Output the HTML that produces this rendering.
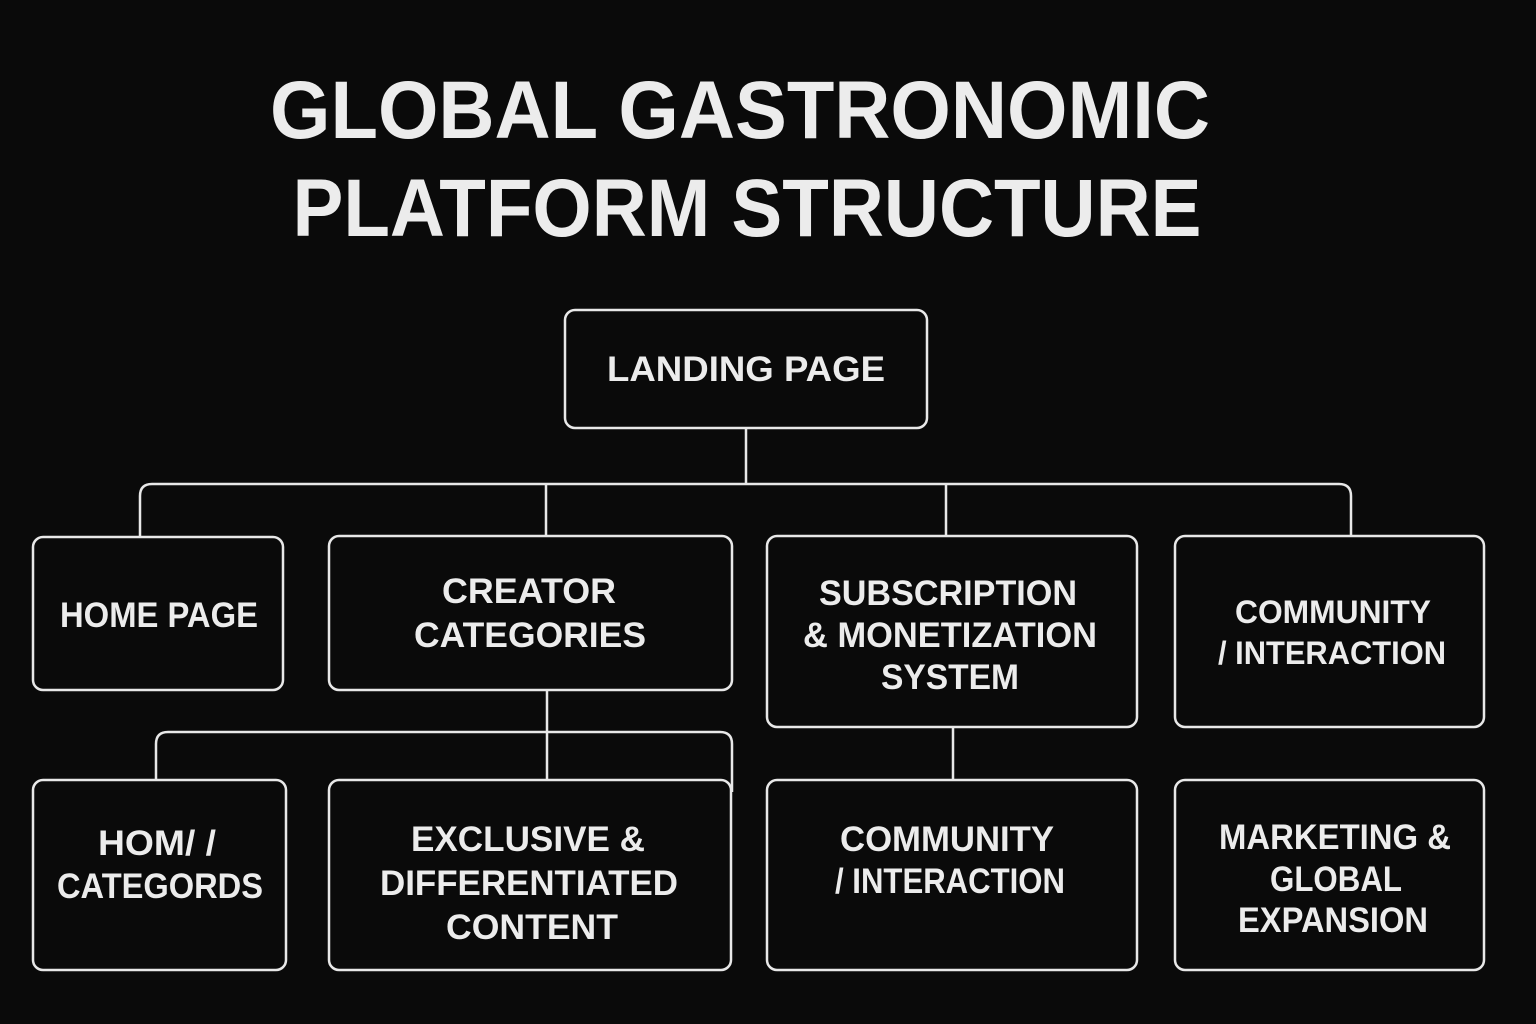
<!DOCTYPE html>
<html><head><meta charset="utf-8"><style>
html,body{margin:0;padding:0;background:#0a0a0a;}
svg{display:block}
text{font-family:"Liberation Sans",sans-serif;font-weight:bold;fill:#ececec;text-anchor:middle}
</style></head><body>
<svg width="1536" height="1024" viewBox="0 0 1536 1024" xmlns="http://www.w3.org/2000/svg">
<rect width="1536" height="1024" fill="#0a0a0a"/>
<text x="740" y="138" font-size="82" textLength="940" lengthAdjust="spacingAndGlyphs">GLOBAL GASTRONOMIC</text>
<text x="747" y="236" font-size="82" textLength="909" lengthAdjust="spacingAndGlyphs">PLATFORM STRUCTURE</text>
<g fill="none" stroke="#e8e8e8" stroke-width="2.5">
<rect x="565" y="310" width="362" height="118" rx="10"/>
<path d="M746 428V484"/>
<path d="M140 537V496Q140 484 152 484H1339Q1351 484 1351 496V537"/>
<path d="M546 484V537M946 484V537"/>
<rect x="33" y="537" width="250" height="153" rx="10"/>
<rect x="329" y="536" width="403" height="154" rx="10"/>
<rect x="767" y="536" width="370" height="191" rx="10"/>
<rect x="1175" y="536" width="309" height="191" rx="10"/>
<path d="M547 690V780"/>
<path d="M156 780V744Q156 732 168 732H720Q732 732 732 744V792"/>
<path d="M953 727V780"/>
<rect x="33" y="780" width="253" height="190" rx="10"/>
<rect x="329" y="780" width="402" height="190" rx="10"/>
<rect x="767" y="780" width="370" height="190" rx="10"/>
<rect x="1175" y="780" width="309" height="190" rx="10"/>
</g>
<g font-size="35">
<text x="746" y="381" textLength="278" lengthAdjust="spacingAndGlyphs">LANDING PAGE</text>
<text x="159" y="627" textLength="198" lengthAdjust="spacingAndGlyphs">HOME PAGE</text>
<text x="529" y="603" textLength="174" lengthAdjust="spacingAndGlyphs">CREATOR</text>
<text x="530" y="647" textLength="232" lengthAdjust="spacingAndGlyphs">CATEGORIES</text>
<text x="948" y="605" textLength="258" lengthAdjust="spacingAndGlyphs">SUBSCRIPTION</text>
<text x="950" y="647" textLength="294" lengthAdjust="spacingAndGlyphs">&amp; MONETIZATION</text>
<text x="950" y="689" textLength="138" lengthAdjust="spacingAndGlyphs">SYSTEM</text>
<text x="1333" y="623" font-size="32" textLength="196" lengthAdjust="spacingAndGlyphs">COMMUNITY</text>
<text x="1332" y="664" font-size="32" textLength="228" lengthAdjust="spacingAndGlyphs">/ INTERACTION</text>
<text x="157" y="855" textLength="118" lengthAdjust="spacingAndGlyphs">HOM/ /</text>
<text x="160" y="898" textLength="206" lengthAdjust="spacingAndGlyphs">CATEGORDS</text>
<text x="528" y="851" textLength="234" lengthAdjust="spacingAndGlyphs">EXCLUSIVE &amp;</text>
<text x="529" y="895" textLength="298" lengthAdjust="spacingAndGlyphs">DIFFERENTIATED</text>
<text x="532" y="939" textLength="172" lengthAdjust="spacingAndGlyphs">CONTENT</text>
<text x="947" y="851" textLength="214" lengthAdjust="spacingAndGlyphs">COMMUNITY</text>
<text x="950" y="893" textLength="230" lengthAdjust="spacingAndGlyphs">/ INTERACTION</text>
<text x="1335" y="849" textLength="232" lengthAdjust="spacingAndGlyphs">MARKETING &amp;</text>
<text x="1336" y="891" textLength="132" lengthAdjust="spacingAndGlyphs">GLOBAL</text>
<text x="1333" y="932" textLength="190" lengthAdjust="spacingAndGlyphs">EXPANSION</text>
</g>
</svg>
</body></html>
